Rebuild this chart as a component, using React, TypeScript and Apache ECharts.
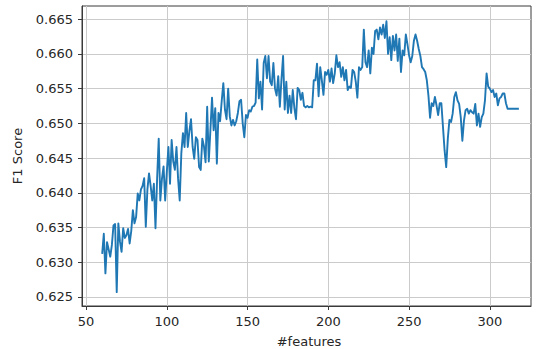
import { useEffect, useRef } from "react";
import * as echarts from "echarts";

// Number of features used by the model
const features = [
  60, 61, 62, 63, 65, 66, 67, 68, 69, 70, 71, 72, 73, 74, 75, 76, 77, 78, 79, 80,
  81, 82, 83, 84, 85, 86, 87, 88, 89, 90, 91, 92, 93, 94, 95, 96, 97, 98, 99, 100,
  101, 102, 103, 104, 105, 106, 107, 108, 109, 110, 111, 112, 113, 114, 115, 116, 117, 118, 119, 120,
  121, 122, 123, 124, 125, 126, 127, 128, 129, 130, 131, 132, 133, 134, 135, 136, 137, 138, 139, 140,
  141, 142, 143, 144, 145, 146, 147, 148, 149, 150, 151, 152, 153, 154, 155, 156, 157, 158, 159, 160,
  161, 162, 163, 164, 165, 166, 167, 168, 169, 170, 171, 172, 173, 174, 175, 176, 177, 178, 179, 180,
  181, 182, 183, 184, 185, 186, 187, 188, 189, 190, 191, 192, 193, 194, 195, 196, 197, 198, 199, 200,
  201, 202, 203, 204, 205, 206, 207, 208, 209, 210, 211, 212, 213, 214, 215, 216, 217, 218, 219, 220,
  221, 222, 223, 224, 225, 226, 227, 228, 229, 230, 231, 232, 233, 234, 235, 236, 237, 238, 239, 240,
  241, 242, 243, 244, 245, 246, 247, 248, 249, 250, 251, 252, 253, 254, 255, 256, 257, 258, 259, 260,
  261, 262, 263, 264, 265, 266, 267, 268, 269, 270, 271, 272, 273, 274, 275, 276, 277, 278, 279, 280,
  281, 282, 283, 284, 285, 286, 287, 288, 289, 290, 291, 292, 293, 294, 295, 296, 297, 298, 299, 300,
  301, 302, 303, 304, 305, 306, 307, 308, 309, 310, 311, 312, 313, 314, 315, 316, 317, 318,
];

// F1 score obtained for each feature count
const f1Scores = [
  0.6312, 0.6341, 0.6284, 0.6329, 0.6308, 0.6325, 0.6353, 0.6355, 0.6257, 0.6356,
  0.633, 0.6315, 0.6349, 0.6335, 0.6339, 0.6348, 0.6327, 0.6345, 0.6375, 0.6356,
  0.6365, 0.6399, 0.6389, 0.6405, 0.641, 0.6421, 0.6351, 0.6405, 0.6428, 0.641,
  0.6389, 0.6413, 0.6349, 0.642, 0.6478, 0.6389, 0.642, 0.6438, 0.6389, 0.643,
  0.6466, 0.6413, 0.6476, 0.6445, 0.6433, 0.6466, 0.642, 0.6389, 0.6457, 0.6486,
  0.6466, 0.6515, 0.6466, 0.6489, 0.6506, 0.6466, 0.6449, 0.648, 0.6476, 0.6437,
  0.6433, 0.6478, 0.6467, 0.6444, 0.6524, 0.6445, 0.649, 0.6537, 0.649, 0.6522,
  0.6442, 0.6515, 0.6503, 0.6532, 0.6558, 0.652, 0.6506, 0.655, 0.651, 0.6497,
  0.6505, 0.6497, 0.6503, 0.6515, 0.6532, 0.6534, 0.65, 0.648, 0.6512, 0.6508,
  0.6519, 0.6517, 0.6524, 0.6525, 0.653, 0.6592, 0.6536, 0.656, 0.652, 0.6587,
  0.6597, 0.6565, 0.6597, 0.656, 0.6555, 0.6587, 0.655, 0.654, 0.6568, 0.6524,
  0.6563, 0.6597, 0.652, 0.656, 0.6515, 0.654, 0.6515, 0.6548, 0.6522, 0.6506,
  0.6551, 0.6548, 0.6534, 0.6544, 0.6525, 0.6523, 0.6525, 0.6523, 0.6524, 0.6523,
  0.6562, 0.6562, 0.6586, 0.6539, 0.6581, 0.6562, 0.6541, 0.6574, 0.657, 0.6577,
  0.656, 0.6579, 0.6558, 0.6572, 0.6598, 0.6581, 0.6588, 0.6567, 0.6581, 0.6562,
  0.6577, 0.6548, 0.6553, 0.6551, 0.6577, 0.6574, 0.656, 0.6537, 0.6581, 0.6577,
  0.6581, 0.6635, 0.6588, 0.6581, 0.6605, 0.6572, 0.6609, 0.66, 0.6633, 0.6635,
  0.6621, 0.6638, 0.6628, 0.6642, 0.6623, 0.6647, 0.66, 0.6624, 0.6591, 0.6626,
  0.6605, 0.6628, 0.659, 0.6622, 0.6574, 0.6605, 0.6598, 0.6628, 0.6614, 0.6598,
  0.6588, 0.6597, 0.6619, 0.6628, 0.6619, 0.6607, 0.6597, 0.6581, 0.6578, 0.6574,
  0.6562, 0.654, 0.6508, 0.6529, 0.6525, 0.6538, 0.6526, 0.6512, 0.6529, 0.6529,
  0.6495, 0.6461, 0.6437, 0.6478, 0.6505, 0.6502, 0.6514, 0.6538, 0.6545, 0.6533,
  0.6528, 0.6509, 0.6475, 0.6504, 0.6519, 0.6521, 0.6514, 0.6519, 0.6516, 0.6514,
  0.6528, 0.6497, 0.6514, 0.6495, 0.6509, 0.6514, 0.6533, 0.6572, 0.6553, 0.655,
  0.6545, 0.6548, 0.6538, 0.6543, 0.6526, 0.6536, 0.6538, 0.6543, 0.6543, 0.6529,
  0.6521, 0.6521, 0.6521, 0.6521, 0.6521, 0.6521, 0.6521, 0.6521,
];

const xTicks = [50, 100, 150, 200, 250, 300];
const yTicks = [0.625, 0.63, 0.635, 0.64, 0.645, 0.65, 0.655, 0.66, 0.665];

const FONT = "DejaVu Sans";
const TEXT = "#262626";
const SPINE = "#3a3a3a";
const GRIDLINE = "#cbcbcb";

export default function App() {
  const ref = useRef<HTMLDivElement>(null);

  useEffect(() => {
    const chart = echarts.init(ref.current!, null, { renderer: "svg" });
    const points = features.map((f, i) => [f, f1Scores[i]]);

    chart.setOption({
      animation: false,
      backgroundColor: "#ffffff",
      grid: {
        left: 82,
        right: 6,
        top: 6,
        bottom: 43,
        show: true,
        borderColor: SPINE,
        borderWidth: 1,
        backgroundColor: "transparent",
      },
      xAxis: {
        type: "value",
        min: 47.5,
        max: 325.5,
        axisLine: { show: true, lineStyle: { color: SPINE, width: 1 } },
        axisTick: {
          show: true,
          customValues: xTicks,
          length: 4,
          lineStyle: { color: SPINE, width: 1 },
        },
        axisLabel: {
          customValues: xTicks,
          margin: 9,
          color: TEXT,
          fontFamily: FONT,
          fontSize: 13,
        },
        splitLine: { show: true, lineStyle: { color: GRIDLINE, width: 1 } },
      },
      yAxis: {
        type: "value",
        min: 0.6237,
        max: 0.6669,
        axisLine: { show: true, lineStyle: { color: SPINE, width: 1 } },
        axisTick: {
          show: true,
          customValues: yTicks,
          length: 4,
          lineStyle: { color: SPINE, width: 1 },
        },
        axisLabel: {
          customValues: yTicks,
          margin: 9,
          color: TEXT,
          fontFamily: FONT,
          fontSize: 13,
          formatter: (v: number) => v.toFixed(3),
        },
        splitLine: { show: true, lineStyle: { color: GRIDLINE, width: 1 } },
      },
      series: [
        {
          type: "line",
          data: points,
          showSymbol: false,
          symbol: "none",
          lineStyle: { color: "#1f77b4", width: 1.9, join: "round" },
          z: 3,
        },
      ],
      graphic: [
        {
          type: "text",
          x: 17,
          y: 156,
          rotation: Math.PI / 2,
          style: {
            text: "F1 Score",
            fill: TEXT,
            font: `13px "${FONT}"`,
            align: "center",
            verticalAlign: "middle",
          },
        },
        {
          type: "text",
          x: 309,
          y: 341,
          style: {
            text: "#features",
            fill: TEXT,
            font: `13px "${FONT}"`,
            align: "center",
            verticalAlign: "middle",
          },
        },
      ],
    });

    return () => chart.dispose();
  }, []);

  return (
    <div
      ref={ref}
      style={{ position: "fixed", left: 0, top: 0, width: 537, height: 349 }}
    />
  );
}
